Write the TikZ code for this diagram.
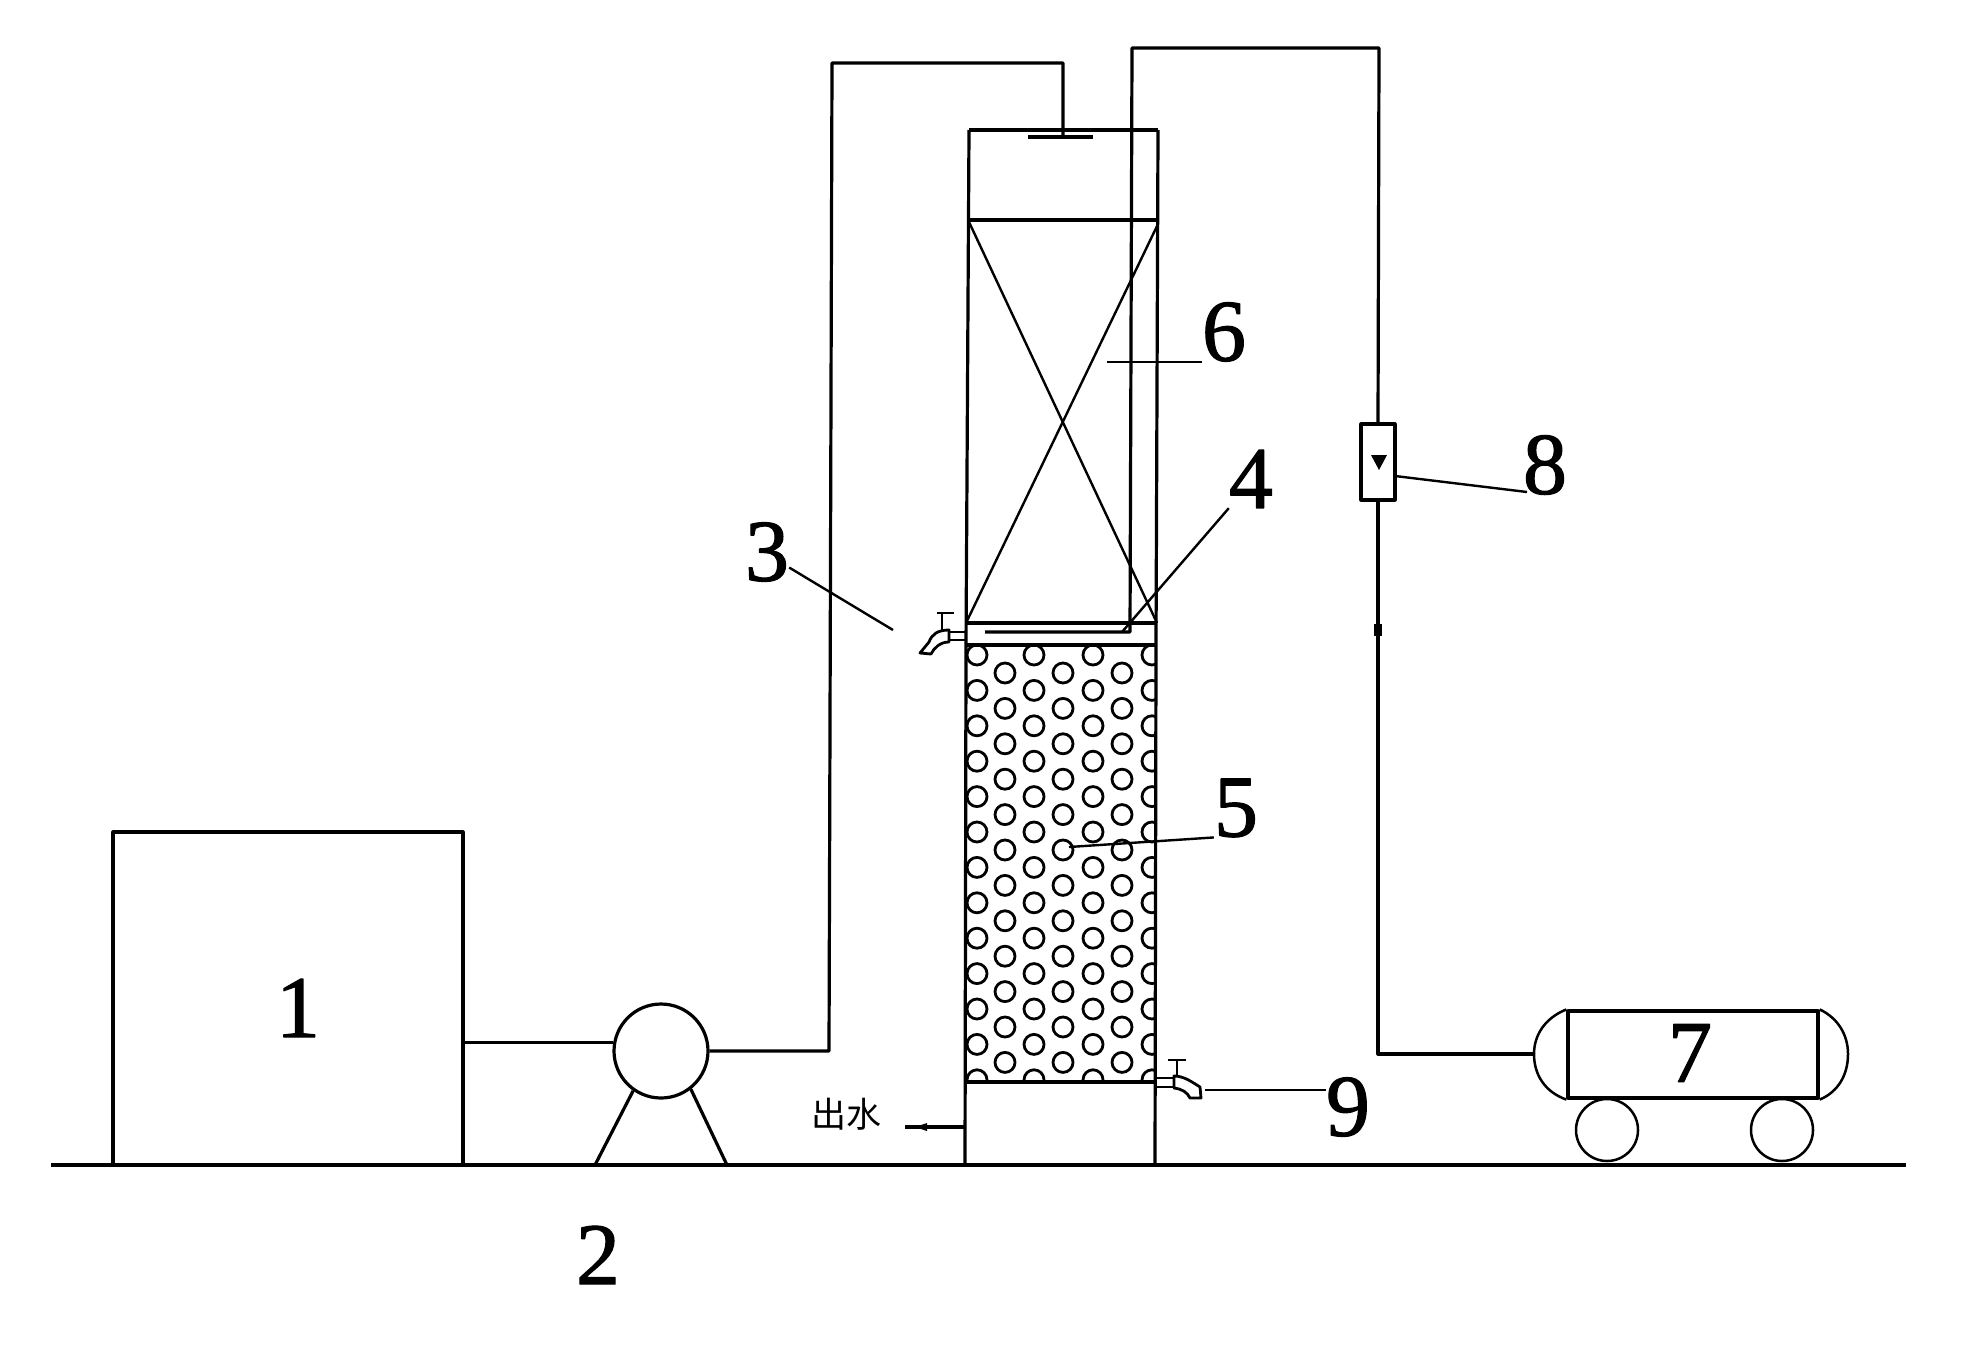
\documentclass[tikz,border=0pt]{standalone}
\usepackage{fontspec}
\setmainfont{Liberation Serif}
\newfontfamily\numfont[FakeBold=1.3]{Liberation Serif}
\newfontfamily\cjk{Noto Sans CJK SC}
\tikzset{
  pipe/.style={line width=3.2pt},
  leader/.style={line width=2.4pt},
  numlabel/.style={font=\numfont\fontsize{88}{88}\selectfont, inner sep=0pt},
  unitbox/.style={draw, line width=3.2pt, rectangle, inner sep=0pt},
  unitround/.style={draw, line width=3.2pt, circle, inner sep=0pt}
}
\begin{document}
\begin{tikzpicture}[x=1pt, y=-1pt, line join=round]
\useasboundingbox (0,0) rectangle (1988,1349);

% Ground
\coordinate (gl) at (51,1165);
\coordinate (gr) at (1906,1165);
\draw[pipe] (gl) -- (gr);

% Tank and pump
\node[unitbox, minimum width=350pt, minimum height=333pt] (tank) at (288,998.5) {};
\node[unitround, minimum size=94pt] (pump) at (661,1051) {};
\coordinate (legl) at (595,1165);
\coordinate (legr) at (727,1165);
\draw[pipe] (pump.235) -- (legl);
\draw[pipe] (pump.-52) -- (legr);
\draw[pipe] (tank.east |- pump.170) -- (pump.170);

% Feed line to the top of the column
\coordinate (spray) at (1063,137);
\coordinate (sprayl) at (1028,137);
\coordinate (sprayr) at (1093,137);
\draw[pipe] (pump.east) -- (829,1051) -- (832,63) -- (1063,63) -- (spray);
\draw[pipe] (sprayl) -- (sprayr);

% Packing
\begin{scope}
\clip (966,645) rectangle (1155,1082);
\foreach \cx in {977,1034,1093,1152}
  \foreach \k in {0,...,12}
    \draw[line width=2.8pt] (\cx,655+35.4*\k) circle (10pt);
\foreach \cx in {1005,1063,1122}
  \foreach \k in {0,...,11}
    \draw[line width=2.8pt] (\cx,673+35.4*\k) circle (10pt);
\end{scope}

% Column
\draw[pipe] (969,130) -- (1158,130);
\draw[pipe] (969,130) -- (966,645) -- (965,1165);
\draw[pipe] (1158,130) -- (1156,645) -- (1155,1165);
\draw[pipe] (969,220) -- (1158,220);
\draw[pipe] (967,623) -- (1157,623);
\draw[line width=4.5pt] (966,645) -- (1156,645);
\draw[pipe] (965,1082) -- (1155,1082);
\draw[leader] (969,222) -- (1157,623);
\draw[leader] (1158,224) -- (966,623);

% Air line
\node[unitbox, minimum width=34pt, minimum height=76pt] (meter) at (1378,462) {};
\fill (1371,455) -- (1387,455) -- (1379,470) -- cycle;
\node[unitbox, minimum width=250pt, minimum height=87pt] (airtank) at (1693,1054.5) {};
\coordinate (headl) at (1534,1054);
\coordinate (headr) at (1848,1054);
\coordinate (airend) at (985,632);
\draw[pipe] (headl) -- (1378,1054) -- (meter.south);
\draw[pipe] (meter.north) -- (1379,48) -- (1132,48) -- (1130,632) -- (airend);
\fill (1374,624) rectangle (1382,636);

% Air tank heads and wheels
\draw[line width=2.5pt] (airtank.north west) .. controls (1545,1018) and (1534,1035) .. (headl)
  .. controls (1534,1075) and (1545,1092) .. (airtank.south west);
\draw[line width=2.5pt] (airtank.north east) .. controls (1838,1018) and (1848,1035) .. (headr)
  .. controls (1848,1075) and (1838,1092) .. (airtank.south east);
\node[unitround, line width=2.5pt, minimum size=62pt] (wheell) at (1607,1130) {};
\node[unitround, line width=2.5pt, minimum size=62pt] (wheelr) at (1782,1130) {};

% Sampling tap, upper
\draw[line width=2.4pt] (948,632) -- (966,632);
\draw[line width=2.4pt] (948,640) -- (966,640);
\draw[line width=2.4pt] (937,613) -- (954,613);
\draw[line width=2.4pt] (942,613) -- (942,630);
\draw[line width=2.8pt, fill=white] (949,630) .. controls (938,630) and (932,634) .. (929,642)
  -- (920,653) -- (931,654) .. controls (934,648) and (940,642) .. (949,642) -- cycle;

% Sampling tap, lower
\draw[line width=2.4pt] (1155,1078) -- (1174,1078);
\draw[line width=2.4pt] (1155,1087) -- (1174,1087);
\draw[line width=2.4pt] (1168,1060) -- (1186,1060);
\draw[line width=2.4pt] (1177,1060) -- (1177,1077);
\draw[line width=2.8pt, fill=white] (1174,1076) .. controls (1184,1076) and (1192,1082) .. (1200,1087)
  -- (1201,1098) -- (1190,1098) .. controls (1187,1092) and (1182,1089) .. (1174,1088) -- cycle;

% Outlet
\node[font=\cjk\fontsize{35}{35}\selectfont, inner sep=0pt] (outlet) at (846,1114) {出水};
\coordinate (outend) at (905,1127);
\draw[pipe] (965,1127) -- (outend);
\fill (915,1127) -- (927,1123) -- (927,1131) -- cycle;

% Numbers
\node[numlabel] (n1) at (298,1008) {1};
\node[numlabel] (n2) at (598,1255) {2};
\node[numlabel] (n3) at (767,552) {3};
\node[numlabel] (n4) at (1251,479) {4};
\node[numlabel] (n5) at (1236,808) {5};
\node[numlabel] (n6) at (1224,332) {6};
\node[numlabel] (n7) at (1690,1053) {7};
\node[numlabel] (n8) at (1545,465) {8};
\node[numlabel] (n9) at (1348,1107) {9};

% Leaders
\coordinate (t3) at (893,630);
\coordinate (t4) at (1122,632);
\coordinate (t5) at (1069,847);
\coordinate (t6) at (1107,361);
\coordinate (s8) at (1527,492);
\coordinate (t8) at (1395,476);
\coordinate (t9) at (1205,1090);
\draw[leader] (n3.-35) -- (t3);
\draw[leader] (n4.south west) -- (t4);
\draw[leader] (n5.south west) -- (t5);
\draw[leader] (n6.south west) -- (t6 |- n6.south west);
\draw[leader] (s8) -- (t8);
\draw[leader] (n9.west |- t9) -- (t9);

\end{tikzpicture}
\end{document}
